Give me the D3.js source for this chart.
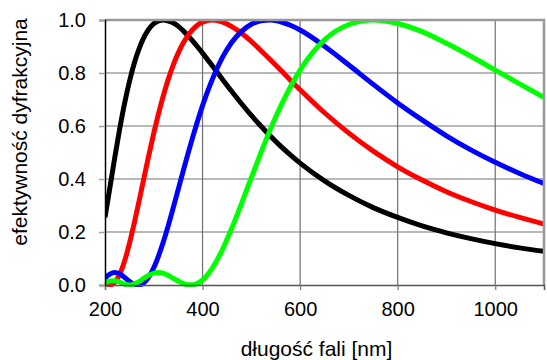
<!DOCTYPE html>
<html>
<head>
<meta charset="utf-8">
<script src="https://cdn.jsdelivr.net/npm/d3@7"></script>
<style>
  html, body { margin: 0; padding: 0; background: #fff; }
  svg { display: block; font-family: "Liberation Sans", Arial, sans-serif; }
</style>
</head>
<body>
<svg id="chart" width="547" height="360"></svg>
<script>
// wavelengths [nm]
const wavelengths = [200,210,220,230,240,250,260,270,280,290,300,310,320,330,340,350,360,370,380,390,400,420,440,460,480,500,520,540,560,580,600,650,700,750,800,850,900,950,1000,1050,1100];
// diffraction efficiency per series
const blackSeries = [0.255,0.367,0.481,0.588,0.684,0.767,0.837,0.892,0.935,0.966,0.986,0.997,1.000,0.996,0.989,0.977,0.960,0.941,0.920,0.898,0.875,0.827,0.778,0.730,0.684,0.640,0.599,0.560,0.524,0.491,0.460,0.393,0.338,0.292,0.255,0.223,0.197,0.175,0.156,0.140,0.127];
const redSeries = [0.008,0.000,0.010,0.040,0.090,0.156,0.234,0.318,0.405,0.491,0.573,0.649,0.717,0.778,0.831,0.875,0.912,0.941,0.964,0.981,0.992,1.000,0.993,0.975,0.950,0.919,0.884,0.848,0.811,0.773,0.737,0.650,0.573,0.505,0.446,0.396,0.352,0.315,0.283,0.255,0.230];
const blueSeries = [0.026,0.041,0.047,0.042,0.029,0.014,0.003,0.000,0.009,0.031,0.065,0.111,0.165,0.226,0.292,0.360,0.428,0.495,0.559,0.620,0.677,0.776,0.856,0.916,0.957,0.984,0.997,1.000,0.993,0.980,0.962,0.901,0.830,0.757,0.687,0.623,0.563,0.510,0.463,0.421,0.383];
const greenSeries = [0.007,0.015,0.016,0.011,0.003,0.000,0.004,0.013,0.026,0.037,0.045,0.047,0.044,0.036,0.025,0.015,0.006,0.001,0.001,0.007,0.019,0.064,0.131,0.215,0.308,0.405,0.501,0.592,0.674,0.747,0.811,0.925,0.983,1.000,0.987,0.956,0.912,0.863,0.811,0.759,0.708];
const seriesColors = ["#000000", "#ff0000", "#0000ff", "#00ff00"];
const xTicks = [200, 400, 600, 800, 1000];
const yTicks = [0, 0.2, 0.4, 0.6, 0.8, 1.0];
const xTitle = "długość fali [nm]";
const yTitle = "efektywność dyfrakcyjna";

const svg = d3.select("#chart");
const L = 105, R = 544, T = 20, B = 285;
const x = d3.scaleLinear().domain([200, 1100]).range([L, R]);
const y = d3.scaleLinear().domain([0, 1]).range([B, T]);

// horizontal gridlines
svg.append("g").selectAll("line").data(yTicks.slice(1)).join("line")
  .attr("x1", L).attr("x2", R).attr("y1", d => y(d)).attr("y2", d => y(d))
  .attr("stroke", "#a0a0a0").attr("stroke-width", 1.5);
// vertical gridlines
svg.append("g").selectAll("line").data(xTicks.slice(1)).join("line")
  .attr("x1", d => x(d)).attr("x2", d => x(d)).attr("y1", T).attr("y2", B)
  .attr("stroke", "#707070").attr("stroke-width", 1.2);

// clip
svg.append("defs").append("clipPath").attr("id", "clip")
  .append("rect").attr("x", L).attr("y", T).attr("width", R - L).attr("height", B - T + 2);

const line = d3.line().x((d, i) => x(wavelengths[i])).y(d => y(d)).curve(d3.curveMonotoneX);
const allSeries = [blackSeries, redSeries, blueSeries, greenSeries];
svg.append("g").attr("clip-path", "url(#clip)")
  .selectAll("path").data(allSeries).join("path")
  .attr("d", d => line(d))
  .attr("fill", "none")
  .attr("stroke", (d, i) => seriesColors[i])
  .attr("stroke-width", 5)
  .attr("stroke-linejoin", "round");

// top & right border
svg.append("path").attr("d", `M${L},${T}H${R}V${B}`)
  .attr("fill", "none").attr("stroke", "#999").attr("stroke-width", 2.5);

// axes
const xAxis = svg.append("g").attr("transform", `translate(0,${B})`)
  .call(d3.axisBottom(x).tickValues(xTicks).tickSize(5).tickPadding(12).tickFormat(d3.format("d")));
xAxis.select(".domain").attr("stroke", "#555").attr("stroke-width", 1.5);
xAxis.selectAll(".tick line").attr("stroke", "#777").attr("stroke-width", 1.2);
xAxis.selectAll(".tick text").attr("font-size", 20).attr("fill", "#000")
  .attr("font-family", "Liberation Sans, Arial, sans-serif");

const yAxis = svg.append("g").attr("transform", `translate(${L},0)`)
  .call(d3.axisLeft(y).tickValues(yTicks).tickSize(6).tickPadding(13).tickFormat(d3.format(".1f")));
yAxis.select(".domain").attr("stroke", "#000").attr("stroke-width", 1.5);
yAxis.selectAll(".tick line").attr("stroke", "#a0a0a0").attr("stroke-width", 1.5);
yAxis.selectAll(".tick text").attr("font-size", 20).attr("fill", "#000")
  .attr("font-family", "Liberation Sans, Arial, sans-serif");

// titles
svg.append("text").attr("x", 316.5).attr("y", 356).attr("text-anchor", "middle")
  .attr("font-size", 21).attr("fill", "#000").text(xTitle);
svg.append("text").attr("transform", "translate(27,132) rotate(-90)").attr("text-anchor", "middle")
  .attr("font-size", 21).attr("fill", "#000").text(yTitle);
</script>
</body>
</html>
